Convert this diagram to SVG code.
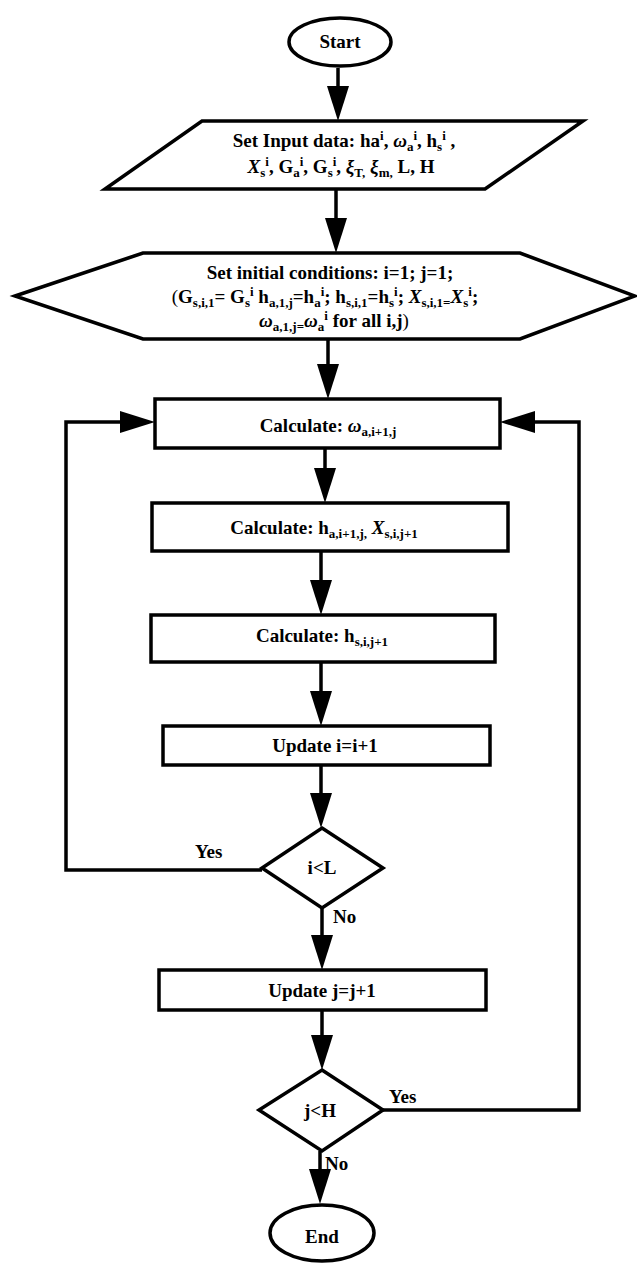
<svg xmlns="http://www.w3.org/2000/svg" width="637" height="1264" viewBox="0 0 637 1264">
  <style>
    .shape { fill: #ffffff; stroke: #000000; stroke-width: 3.5; stroke-linejoin: miter; }
    .wire { fill: none; stroke: #000000; stroke-width: 3.5; }
    .t { font-family: "Liberation Serif", "Times New Roman", serif; font-weight: bold; font-size: 19px; fill: #000000; text-anchor: middle; }
    .lbl { font-family: "Liberation Serif", "Times New Roman", serif; font-weight: bold; font-size: 19px; fill: #000000; }
    .s { font-size: 13px; }
    .it { font-style: italic; }
    .n { font-weight: normal; }
  </style>
  <defs>
    <marker id="arrow" markerUnits="userSpaceOnUse" markerWidth="36" markerHeight="22" viewBox="0 0 36 22" refX="23" refY="11" orient="auto">
      <path d="M0,0 L35,11 L0,22 z" fill="#000000"/>
    </marker>
  </defs>

  <!-- connectors -->
  <g id="connectors">
    <path class="wire" d="M338,68 V109" marker-end="url(#arrow)"/>
    <path class="wire" d="M336,189 V241" marker-end="url(#arrow)"/>
    <path class="wire" d="M328,339 V387" marker-end="url(#arrow)"/>
    <path class="wire" d="M325,448 V491" marker-end="url(#arrow)"/>
    <path class="wire" d="M321,551 V603" marker-end="url(#arrow)"/>
    <path class="wire" d="M321,662 V714" marker-end="url(#arrow)"/>
    <path class="wire" d="M321,765 V816" marker-end="url(#arrow)"/>
    <path class="wire" d="M262,870 H66 V422 H143" marker-end="url(#arrow)"/>
    <path class="wire" d="M322,908 V958" marker-end="url(#arrow)"/>
    <path class="wire" d="M322,1010 V1058" marker-end="url(#arrow)"/>
    <path class="wire" d="M383,1110 H579 V422 H512" marker-end="url(#arrow)"/>
    <path class="wire" d="M320,1151 V1192" marker-end="url(#arrow)"/>
    <text class="lbl" x="195" y="858">Yes</text>
    <text class="lbl" x="333" y="923">No</text>
    <text class="lbl" x="389" y="1103">Yes</text>
    <text class="lbl" x="325" y="1170">No</text>
  </g>

  <!-- terminal: start -->
  <g id="start">
    <ellipse class="shape" cx="340" cy="42" rx="51" ry="24"/>
    <text class="t" x="340" y="48">Start</text>
  </g>

  <!-- input data -->
  <g id="input">
    <polygon class="shape" points="202,121 583,121 485,189 105,189"/>
    <text class="t" x="344" y="147">Set Input data: ha<tspan class="s" dy="-7">i</tspan><tspan dy="7">, </tspan><tspan class="it">ω</tspan><tspan class="s" dy="4">a</tspan><tspan class="s" dy="-11">i</tspan><tspan dy="7">, h</tspan><tspan class="s" dy="4">s</tspan><tspan class="s" dy="-11">i</tspan><tspan dy="7"> ,</tspan></text>
    <text class="t" x="341" y="173"><tspan class="it">X</tspan><tspan class="s" dy="4">s</tspan><tspan class="s" dy="-11">i</tspan><tspan dy="7">, G</tspan><tspan class="s" dy="4">a</tspan><tspan class="s" dy="-11">i</tspan><tspan dy="7">, G</tspan><tspan class="s" dy="4">s</tspan><tspan class="s" dy="-11">i</tspan><tspan dy="7">, </tspan><tspan class="it">ξ</tspan><tspan class="s" dy="4">T,</tspan><tspan dy="-4"> </tspan><tspan class="it">ξ</tspan><tspan class="s" dy="4">m,</tspan><tspan dy="-4"> L, H</tspan></text>
  </g>

  <!-- initial conditions -->
  <g id="init">
    <polygon class="shape" points="15,296 143,253 520,253 635,296 520,339 143,339"/>
    <text class="t" x="330" y="279">Set initial conditions: i=1; j=1;</text>
    <text class="t" x="325" y="303"><tspan class="n">(</tspan>G<tspan class="s" dy="4">s,i,1</tspan><tspan dy="-4">= G</tspan><tspan class="s" dy="4">s</tspan><tspan class="s" dy="-11">i</tspan><tspan dy="7"> h</tspan><tspan class="s" dy="4">a,1,j</tspan><tspan dy="-4">=h</tspan><tspan class="s" dy="4">a</tspan><tspan class="s" dy="-11">i</tspan><tspan dy="7">; h</tspan><tspan class="s" dy="4">s,i,1</tspan><tspan dy="-4">=h</tspan><tspan class="s" dy="4">s</tspan><tspan class="s" dy="-11">i</tspan><tspan dy="7">;  </tspan><tspan class="it">X</tspan><tspan class="s" dy="4">s,i,1=</tspan><tspan class="it" dy="-4">X</tspan><tspan class="s" dy="4">s</tspan><tspan class="s" dy="-11">i</tspan><tspan dy="7">;</tspan></text>
    <text class="t" x="334" y="327"><tspan class="it">ω</tspan><tspan class="s" dy="4">a,1,j=</tspan><tspan class="it" dy="-4">ω</tspan><tspan class="s" dy="4">a</tspan><tspan class="s" dy="-11">i</tspan><tspan dy="7"> for all i,j</tspan><tspan class="n">)</tspan></text>
  </g>

  <!-- calculate omega -->
  <g id="calc-omega">
    <rect class="shape" x="155" y="399" width="345" height="49"/>
    <text class="t" x="328" y="432">Calculate: <tspan class="it">ω</tspan><tspan class="s" dy="4">a,i+1,j</tspan></text>
  </g>

  <!-- calculate h_a and X_s -->
  <g id="calc-ha-xs">
    <rect class="shape" x="152" y="503" width="356" height="48"/>
    <text class="t" x="324" y="534">Calculate: h<tspan class="s" dy="4">a,i+1,j,</tspan><tspan dy="-4">  </tspan><tspan class="it">X</tspan><tspan class="s" dy="4">s,i,j+1</tspan></text>
  </g>

  <!-- calculate h_s -->
  <g id="calc-hs">
    <rect class="shape" x="151" y="615" width="344" height="47"/>
    <text class="t" x="322" y="642">Calculate: h<tspan class="s" dy="4">s,i,j+1</tspan></text>
  </g>

  <!-- update i -->
  <g id="update-i">
    <rect class="shape" x="163" y="726" width="327" height="39"/>
    <text class="t" x="325" y="752">Update i=i+1</text>
  </g>

  <!-- decision i<L -->
  <g id="check-i">
    <polygon class="shape" points="322,828 383,868 322,908 262,868"/>
    <text class="t" x="322" y="874">i&lt;L</text>
  </g>

  <!-- update j -->
  <g id="update-j">
    <rect class="shape" x="159" y="970" width="327" height="40"/>
    <text class="t" x="322" y="997">Update j=j+1</text>
  </g>

  <!-- decision j<H -->
  <g id="check-j">
    <polygon class="shape" points="322,1070 383,1110 322,1151 259,1110"/>
    <text class="t" x="320" y="1117">j&lt;H</text>
  </g>

  <!-- terminal: end -->
  <g id="end">
    <ellipse class="shape" cx="322" cy="1233" rx="52" ry="28"/>
    <text class="t" x="322" y="1243">End</text>
  </g>
</svg>
